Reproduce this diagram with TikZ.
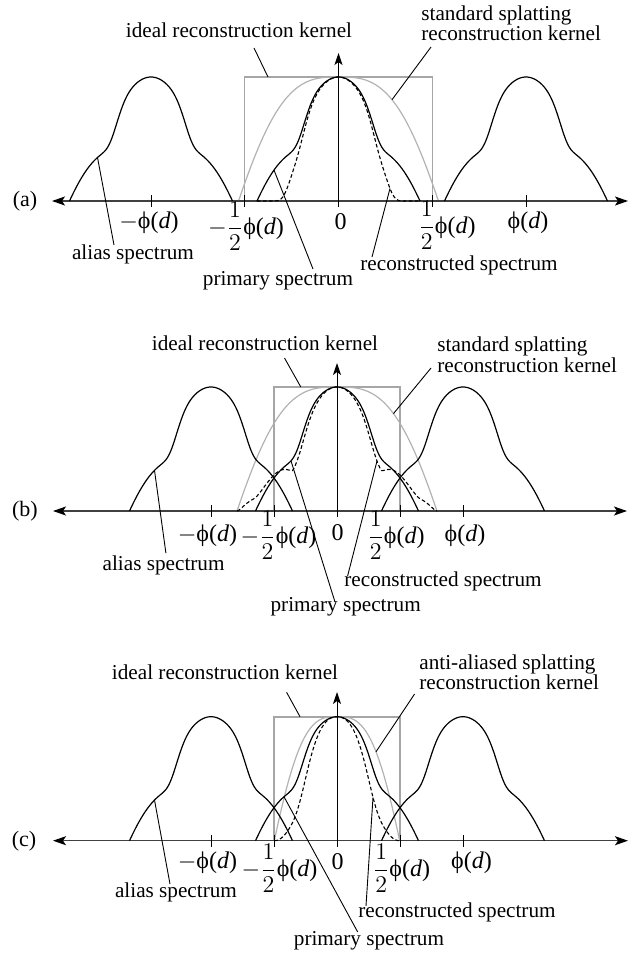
\documentclass[tikz,border=0pt]{standalone}
\usepackage{amsmath}
\usepackage{fontspec}
\setmainfont{Liberation Serif}
\usetikzlibrary{arrows.meta}
\newcommand{\myphid}{ϕ(\textit{d})}
\begin{document}
\begin{tikzpicture}[x=0.5pt,y=-0.5pt,
  declare function={
    spc(\x)=(abs(\x)<81.5)*(0.45*cos(90*(min(abs(\x)/81.5,1))^2)+0.55*exp(-min((min(abs(\x)/81.5,1)/0.588)^2+(min(abs(\x)/81.5,1)/0.467)^6,9)));
    kern(\x,\r)=(abs(\x)<\r)*cos(90*(min(abs(\x)/\r,1)+0.0001)*sqrt(min(abs(\x)/\r,1)+0.0001));
    dashA(\x)=spc(\x)*exp(-min((min(abs(\x)/81.5,1)/0.62)^8,9))*exp(-0.3*(abs(\x)/81.5)^2);
    dashB(\x)=kern(\x,100)*sqrt(abs(kern(\x,100)))*(spc(\x)*exp(-0.3*(abs(\x)/81.5)^2)+spc(\x-126)+spc(\x+126));
    dashC(\x)=spc(\x)*kern(\x,62.7)^2;
  },
  curve/.style={line width=0.6pt, black},
  recon/.style={line width=0.55pt, black, dash pattern=on 1.8pt off 1.2pt},
  kernelc/.style={line width=0.6pt, black!30},
  idealbox/.style={line width=0.9pt, black!35},
  axisline/.style={line width=0.75pt, black!75, {Stealth[length=6.5pt,width=4.5pt,inset=1.5pt,black]}-{Stealth[length=6.5pt,width=4.5pt,inset=1.5pt,black]}},
  vaxis/.style={line width=0.5pt, black, -{Stealth[length=6pt,width=4pt,inset=1.5pt]}},
  tickmark/.style={line width=0.5pt, black},
  leader/.style={line width=0.45pt, black},
  txt/.style={font=\fontsize{10.6}{10}\selectfont, inner sep=0pt, anchor=base},
  mth/.style={font=\fontsize{12}{12}\selectfont, inner sep=0pt, anchor=base},
  plab/.style={font=\fontsize{11}{11}\selectfont, inner sep=0pt},
]
\useasboundingbox (0,0) rectangle (634,959);

% ================= panel (a) =================
\def\pcx{338.5}\def\pay{201}
\coordinate (aBL) at ({\pcx-94},\pay);
\coordinate (aTL) at ({\pcx-94},{\pay-124});
\coordinate (aTR) at ({\pcx+94},{\pay-124});
\coordinate (aBR) at ({\pcx+94},\pay);
\draw[idealbox] (aBL) -- (aTL) -- (aTR) -- (aBR);
\draw[kernelc] plot[domain=-100:100,samples=121] ({\pcx+\x},{\pay-124*kern(\x,100)});
\coordinate (aAxL) at (52,\pay);
\coordinate (aAxR) at (628,\pay);
\draw[axisline] (aAxL) -- (aAxR);
\coordinate (aV0) at (\pcx,{\pay+6});
\coordinate (aV1) at (\pcx,53);
\draw[vaxis] (aV0) -- (aV1);
\foreach \t in {-187.5,-94,94,187.5}
  \draw[tickmark] ({\pcx+\t},{\pay-6}) -- ({\pcx+\t},{\pay+6});
\draw[curve] plot[domain=-81.5:81.5,samples=121] ({\pcx+\x},{\pay-124*spc(\x)});
\draw[curve] plot[domain=-81.5:81.5,samples=121] ({\pcx-187.5+\x},{\pay-124*spc(\x)});
\draw[curve] plot[domain=-81.5:81.5,samples=121] ({\pcx+187.5+\x},{\pay-124*spc(\x)});
\draw[recon] plot[domain=-81.5:81.5,samples=121] ({\pcx+\x},{\pay-124*dashA(\x)});

\node[plab] (aLab) at (25,\pay) {(a)};
\node[txt] (aIdeal) at (239,37) {ideal reconstruction kernel};
\node[txt,anchor=base west] (aStd1) at (421,20) {standard splatting};
\node[txt,anchor=base west] (aStd2) at (421,40) {reconstruction kernel};
\node[txt] (aAlias) at (133,259.5) {alias spectrum};
\node[txt] (aPrim) at (278,285) {primary spectrum};
\node[txt] (aRec) at (459,270) {reconstructed spectrum};
\node[mth] (aM1) at (149,228) {$-$\myphid};
\node[mth] (aM2) at (246,234) {$-\dfrac{1}{2}$\myphid};
\node[mth] (aZ) at (340.5,229) {0};
\node[mth] (aM3) at (447,233) {$\dfrac{1}{2}$\myphid};
\node[mth] (aM4) at (528,228) {\myphid};

\coordinate (aIs) at (254,48);
\coordinate (aIe) at (268,{\pay-124});
\draw[leader] (aIs) -- (aIe);
\coordinate (aSs) at (431,47);
\coordinate (aSe) at ({\pcx+53.5},{\pay-124*kern(53.5,100)});
\draw[leader] (aSs) -- (aSe);
\coordinate (aAs) at ({\pcx-187.5-53.5},{\pay-124*spc(-53.5)});
\coordinate (aAe) at (114,245);
\draw[leader] (aAs) -- (aAe);
\coordinate (aPs) at ({\pcx-64.5},{\pay-124*spc(-64.5)});
\coordinate (aPe) at (313,269);
\draw[leader] (aPs) -- (aPe);
\coordinate (aRs) at ({\pcx+51.5},{\pay-124*dashA(51.5)});
\coordinate (aRe) at (372,257);
\draw[leader] (aRs) -- (aRe);

% ================= panel (b) =================
\def\pcx{337}\def\pay{511}
\coordinate (bBL) at ({\pcx-63},\pay);
\coordinate (bTL) at ({\pcx-63},{\pay-124});
\coordinate (bTR) at ({\pcx+63},{\pay-124});
\coordinate (bBR) at ({\pcx+63},\pay);
\draw[idealbox] (bBL) -- (bTL) -- (bTR) -- (bBR);
\draw[kernelc] plot[domain=-100:100,samples=121] ({\pcx+\x},{\pay-124*kern(\x,100)});
\coordinate (bAxL) at (53,\pay);
\coordinate (bAxR) at (627,\pay);
\draw[axisline] (bAxL) -- (bAxR);
\coordinate (bV0) at (\pcx,{\pay+6});
\coordinate (bV1) at (\pcx,363);
\draw[vaxis] (bV0) -- (bV1);
\foreach \t in {-126,-63,63,126}
  \draw[tickmark] ({\pcx+\t},{\pay-6}) -- ({\pcx+\t},{\pay+6});
\draw[curve] plot[domain=-81.5:81.5,samples=121] ({\pcx+\x},{\pay-124*spc(\x)});
\draw[curve] plot[domain=-81.5:81.5,samples=121] ({\pcx-126+\x},{\pay-124*spc(\x)});
\draw[curve] plot[domain=-81.5:81.5,samples=121] ({\pcx+126+\x},{\pay-124*spc(\x)});
\draw[recon] plot[domain=-100:100,samples=141] ({\pcx+\x},{\pay-124*dashB(\x)});

\node[plab] (bLab) at (25,\pay) {(b)};
\node[txt] (bIdeal) at (265,350) {ideal reconstruction kernel};
\node[txt,anchor=base west] (bStd1) at (437,351.7) {standard splatting};
\node[txt,anchor=base west] (bStd2) at (437,372) {reconstruction kernel};
\node[txt] (bAlias) at (163.6,570) {alias spectrum};
\node[txt] (bRec) at (443,586.7) {reconstructed spectrum};
\node[txt] (bPrim) at (345.7,611) {primary spectrum};
\node[mth] (bM1) at (207.5,541) {$-$\myphid};
\node[mth] (bM2) at (278.5,543) {$-\dfrac{1}{2}$\myphid};
\node[mth] (bZ) at (337.5,540) {0};
\node[mth] (bM3) at (396,543) {$\dfrac{1}{2}$\myphid};
\node[mth] (bM4) at (465,541) {\myphid};

\coordinate (bIs) at (284.5,358);
\coordinate (bIe) at (300.8,{\pay-124});
\draw[leader] (bIs) -- (bIe);
\coordinate (bSs) at (431,368);
\coordinate (bSe) at ({\pcx+56.5},{\pay-124*kern(56.5,100)});
\draw[leader] (bSs) -- (bSe);
\coordinate (bAs) at ({\pcx-126-56.5},{\pay-124*spc(-56.5)});
\coordinate (bAe) at (165.9,553);
\draw[leader] (bAs) -- (bAe);
\coordinate (bPs) at ({\pcx-46},{\pay-124*spc(-46)});
\coordinate (bPe) at (335,602);
\draw[leader] (bPs) -- (bPe);
\coordinate (bRs) at ({\pcx+40},{\pay-124*dashB(40)});
\coordinate (bRe) at (347.6,576);
\draw[leader] (bRs) -- (bRe);

% ================= panel (c) =================
\def\pcx{337}\def\pay{840.7}
\coordinate (cBL) at ({\pcx-63},\pay);
\coordinate (cTL) at ({\pcx-63},{\pay-124});
\coordinate (cTR) at ({\pcx+63},{\pay-124});
\coordinate (cBR) at ({\pcx+63},\pay);
\draw[idealbox] (cBL) -- (cTL) -- (cTR) -- (cBR);
\draw[kernelc] plot[domain=-62.7:62.7,samples=101] ({\pcx+\x},{\pay-124*kern(\x,62.7)});
\coordinate (cAxL) at (53,\pay);
\coordinate (cAxR) at (628,\pay);
\draw[axisline] (cAxL) -- (cAxR);
\coordinate (cV0) at (\pcx,{\pay+6});
\coordinate (cV1) at (\pcx,692);
\draw[vaxis] (cV0) -- (cV1);
\foreach \t in {-126,-63,63,126}
  \draw[tickmark] ({\pcx+\t},{\pay-6}) -- ({\pcx+\t},{\pay+6});
\draw[curve] plot[domain=-81.5:81.5,samples=121] ({\pcx+\x},{\pay-124*spc(\x)});
\draw[curve] plot[domain=-81.5:81.5,samples=121] ({\pcx-126+\x},{\pay-124*spc(\x)});
\draw[curve] plot[domain=-81.5:81.5,samples=121] ({\pcx+126+\x},{\pay-124*spc(\x)});
\draw[recon] plot[domain=-62.7:62.7,samples=101] ({\pcx+\x},{\pay-124*dashC(\x)});

\node[plab] (cLab) at (24,\pay) {(c)};
\node[txt] (cIdeal) at (225,679) {ideal reconstruction kernel};
\node[txt,anchor=base west] (cAnti1) at (419,669) {anti-aliased splatting};
\node[txt,anchor=base west] (cAnti2) at (419,689) {reconstruction kernel};
\node[txt] (cAlias) at (176,897) {alias spectrum};
\node[txt] (cRec) at (457,917) {reconstructed spectrum};
\node[txt] (cPrim) at (369,945.7) {primary spectrum};
\node[mth] (cM1) at (207.5,868) {$-$\myphid};
\node[mth] (cM2) at (279.5,876) {$-\dfrac{1}{2}$\myphid};
\node[mth] (cZ) at (337.5,869) {0};
\node[mth] (cM3) at (401.5,876) {$\dfrac{1}{2}$\myphid};
\node[mth] (cM4) at (471.5,868) {\myphid};

\coordinate (cIs) at (286.6,692.3);
\coordinate (cIe) at (300,{\pay-124});
\draw[leader] (cIs) -- (cIe);
\coordinate (cSs) at (414.6,694);
\coordinate (cSe) at ({\pcx+39},{\pay-124*kern(39,62.7)});
\draw[leader] (cSs) -- (cSe);
\coordinate (cAs) at ({\pcx-126-56.5},{\pay-124*spc(-56.5)});
\coordinate (cAe) at (170,884);
\draw[leader] (cAs) -- (cAe);
\coordinate (cPs) at ({\pcx-53},{\pay-124*spc(-53)});
\coordinate (cPe) at (357.7,932);
\draw[leader] (cPs) -- (cPe);
\coordinate (cRs) at ({\pcx+36},{\pay-124*dashC(36)});
\coordinate (cRe) at (366,906);
\draw[leader] (cRs) -- (cRe);
\end{tikzpicture}
\end{document}
